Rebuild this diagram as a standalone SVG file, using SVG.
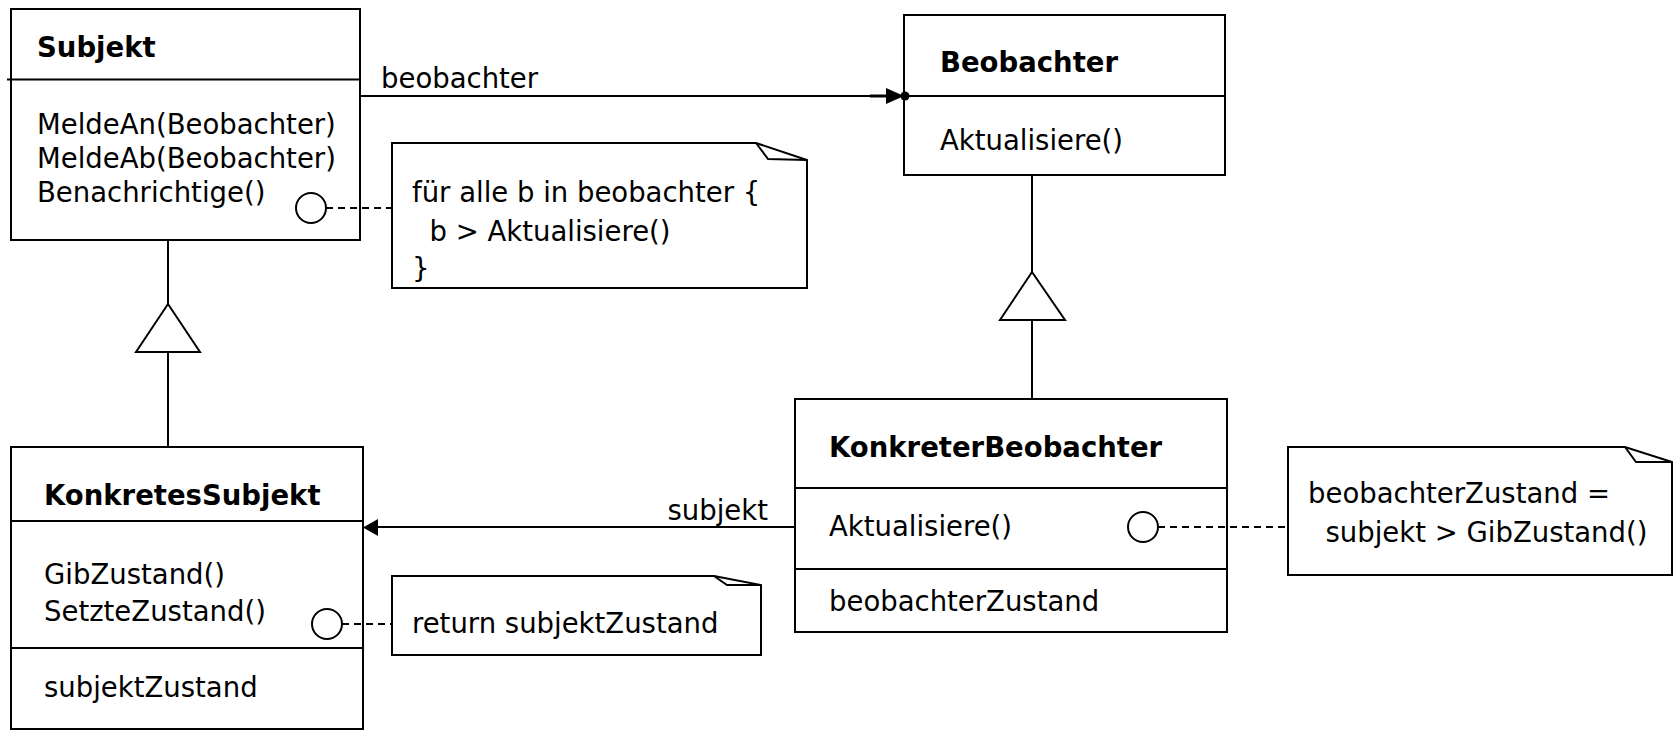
<svg xmlns="http://www.w3.org/2000/svg" width="1677" height="730" viewBox="0 0 1677 730">
<style>
  .box { fill: #fff; stroke: #000; stroke-width: 2; }
  .ln { stroke: #000; stroke-width: 2; fill: none; }
  .dash { stroke: #000; stroke-width: 2; fill: none; stroke-dasharray: 7 5; }
  .t { font-family: "DejaVu Sans", "Liberation Sans", sans-serif; font-size: 27.5px; fill: #000; }
  .b { font-weight: bold; }
  .circ { fill: #fff; stroke: #000; stroke-width: 2; }
</style>
<rect width="1677" height="730" fill="#fff"/>

<g id="Subjekt">
  <rect class="box" x="11" y="9" width="349" height="231"/>
  <line class="ln" x1="7" y1="79.5" x2="360" y2="79.5"/>
  <text class="t b" x="37" y="57">Subjekt</text>
  <text class="t" x="37" y="134">MeldeAn(Beobachter)</text>
  <text class="t" x="37" y="168">MeldeAb(Beobachter)</text>
  <text class="t" x="37" y="202">Benachrichtige()</text>
  <circle class="circ" cx="311" cy="208" r="15"/>
</g>

<g id="Beobachter">
  <rect class="box" x="904" y="15" width="321" height="160"/>
  <line class="ln" x1="904" y1="96" x2="1225" y2="96"/>
  <text class="t b" x="940" y="72">Beobachter</text>
  <text class="t" x="940" y="150">Aktualisiere()</text>
</g>

<g id="KonkretesSubjekt">
  <rect class="box" x="11" y="447" width="352" height="282"/>
  <line class="ln" x1="11" y1="521" x2="363" y2="521"/>
  <line class="ln" x1="11" y1="648" x2="363" y2="648"/>
  <text class="t b" x="44" y="505">KonkretesSubjekt</text>
  <text class="t" x="44" y="584">GibZustand()</text>
  <text class="t" x="44" y="621">SetzteZustand()</text>
  <text class="t" x="44" y="697">subjektZustand</text>
  <circle class="circ" cx="327" cy="624" r="15"/>
</g>

<g id="KonkreterBeobachter">
  <rect class="box" x="795" y="399" width="432" height="233"/>
  <line class="ln" x1="795" y1="488" x2="1227" y2="488"/>
  <line class="ln" x1="795" y1="569" x2="1227" y2="569"/>
  <text class="t b" x="829" y="457">KonkreterBeobachter</text>
  <text class="t" x="829" y="536">Aktualisiere()</text>
  <text class="t" x="829" y="611">beobachterZustand</text>
  <circle class="circ" cx="1143" cy="527" r="15"/>
</g>

<g id="NoteBenachrichtige">
  <path class="box" d="M392,143 L756,143 L807,160 L807,288 L392,288 Z"/>
  <path class="ln" d="M756,143 L768,159 L807,160"/>
  <text class="t" x="412" y="202">für alle b in beobachter {</text>
  <text class="t" x="412" y="241" xml:space="preserve">  b &gt; Aktualisiere()</text>
  <text class="t" x="412" y="278">}</text>
</g>

<g id="NoteGibZustand">
  <path class="box" d="M392,576 L714,576 L761,585 L761,655 L392,655 Z"/>
  <path class="ln" d="M714,576 L727,585 L761,585"/>
  <text class="t" x="412" y="633">return subjektZustand</text>
</g>

<g id="NoteAktualisiere">
  <path class="box" d="M1288,447 L1625,447 L1672,462 L1672,575 L1288,575 Z"/>
  <path class="ln" d="M1625,447 L1636,462 L1672,462"/>
  <text class="t" x="1308" y="503">beobachterZustand =</text>
  <text class="t" x="1308" y="542" xml:space="preserve">  subjekt &gt; GibZustand()</text>
</g>

<g id="connectors">
  <!-- Subjekt -> Beobachter association -->
  <line class="ln" x1="361" y1="96" x2="900" y2="96"/>
  <line x1="870" y1="96" x2="890" y2="96" stroke="#000" stroke-width="3"/>
  <polygon points="886,88 904,96 886,104" fill="#000"/>
  <circle cx="905" cy="96" r="4.5" fill="#000"/>
  <text class="t" x="381" y="88">beobachter</text>

  <!-- generalization Subjekt <- KonkretesSubjekt -->
  <line class="ln" x1="168" y1="240" x2="168" y2="304"/>
  <polygon class="ln" points="168,304 136,352 200,352" fill="#fff"/>
  <line class="ln" x1="168" y1="352" x2="168" y2="447"/>

  <!-- generalization Beobachter <- KonkreterBeobachter -->
  <line class="ln" x1="1032" y1="175" x2="1032" y2="272"/>
  <polygon class="ln" points="1032,272 1000,320 1065,320" fill="#fff"/>
  <line class="ln" x1="1032" y1="320" x2="1032" y2="399"/>

  <!-- KonkreterBeobachter -> KonkretesSubjekt -->
  <line class="ln" x1="794" y1="527" x2="374" y2="527"/>
  <polygon points="378,519 363,527.5 378,536" fill="#000"/>
  <text class="t" x="768" y="520" text-anchor="end">subjekt</text>

  <!-- note links -->
  <line class="dash" x1="326" y1="208" x2="391" y2="208"/>
  <line class="dash" x1="342" y1="624" x2="391" y2="624"/>
  <line class="dash" x1="1158" y1="527" x2="1287" y2="527"/>
</g>
</svg>
